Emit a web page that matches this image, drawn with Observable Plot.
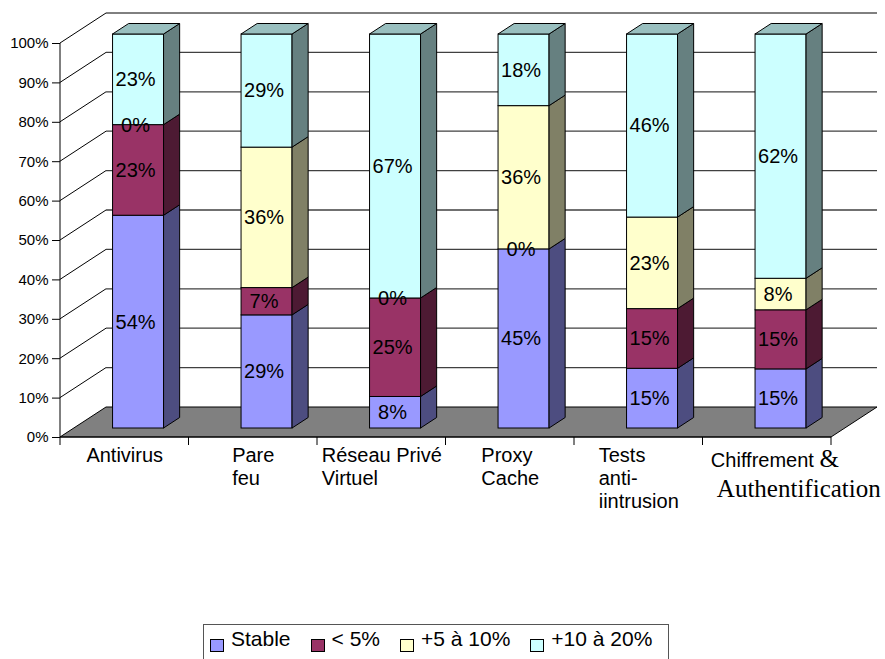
<!DOCTYPE html>
<html>
<head>
<meta charset="utf-8">
<script src="https://cdn.jsdelivr.net/npm/d3@7"></script>
<script src="https://cdn.jsdelivr.net/npm/@observablehq/plot@0.6"></script>
<style>
  body { margin: 0; background: #fff; font-family: "Liberation Sans", Arial, sans-serif; }
  #chart { position: relative; width: 885px; height: 659px; overflow: hidden; background: #fff; }
  #chart svg { display: block; }
  #legend {
    position: absolute; left: 203px; top: 624px; width: 466px; height: 40px;
    box-sizing: border-box; border: 1.5px solid #555; border-bottom: none;
    display: flex; align-items: flex-start; padding: 3px 0 0 6px;
    font-size: 21px; color: #000; line-height: 1;
  }
  .item { display: flex; align-items: flex-start; margin-right: 20px; white-space: nowrap; }
  .swatch { width: 14px; height: 13px; border: 1px solid #000; box-sizing: border-box; margin: 11px 7px 0 0; }
</style>
</head>
<body>
<div id="chart"></div>
<script>
// Survey categories and their axis labels (line breaks as printed)
const categories = ["Antivirus", "Pare feu", "Réseau Privé Virtuel", "Proxy Cache", "Tests anti-iintrusion", "Chiffrement & Authentification"];
const tickLabels = ["Antivirus", "Pare\nfeu", "Réseau Privé\nVirtuel", "Proxy\nCache", "Tests\nanti-\niintrusion", "Chiffrement &\nAuthentification"];

// Series, bottom to top of each stack
const seriesNames = ["Stable", "< 5%", "+5 à 10%", "+10 à 20%"];
const seriesColors = ["#9999FF", "#993366", "#FFFFCC", "#CCFFFF"];

// Shares of answers (%) per category
const stable     = [54, 29,  8, 45, 15, 15];
const under5     = [23,  7, 25,  0, 15, 15];
const from5to10  = [ 0, 36,  0, 36, 23,  8];
const from10to20 = [23, 29, 67, 18, 46, 62];
const seriesValues = [stable, under5, from5to10, from10to20];

const rows = seriesNames.flatMap((s, k) =>
  categories.map((c, i) => ({category: c, series: s, value: seriesValues[k][i]}))
);

// Layout
const width = 885, height = 620;
const margin = {top: 43, right: 54, bottom: 183, left: 60};
const bandStep = (width - margin.left - margin.right) / categories.length;
const barWidth = 51;
const inset = (bandStep - barWidth) / 2;
const depth = {x: 46, y: -30};          // oblique projection of the full depth
const front = 0.3, back = 0.65;         // bar depth range within the floor
const off = {x: depth.x * front, y: depth.y * front};
const thick = {x: depth.x * (back - front), y: depth.y * (back - front)};
const sans = '"Liberation Sans", Arial, sans-serif';
const serif = '"Liberation Serif", "Times New Roman", serif';

const shade = (c, k) => { const r = d3.rgb(c); return d3.rgb(r.r * k, r.g * k, r.b * k).formatHex(); };
const poly = pts => "M" + pts.map(p => p.join(",")).join("L") + "Z";

// Floor, walls, gridlines and axis lines
function walls(index, {x, y}) {
  const x0 = x(categories[0]);
  const x1 = x(categories[categories.length - 1]) + x.bandwidth();
  const y0 = y(0);
  const g = d3.create("svg:g").attr("fill", "none");
  g.append("path")
    .attr("d", poly([[x0, y0], [x1, y0], [x1 + depth.x, y0 + depth.y], [x0 + depth.x, y0 + depth.y]]))
    .attr("fill", "#808080").attr("stroke", "#000");
  for (const t of y.ticks(10)) {
    if (t === 0) continue;
    const yt = y(t);
    g.append("line")
      .attr("x1", x0 + depth.x).attr("x2", x1 + depth.x)
      .attr("y1", yt + depth.y).attr("y2", yt + depth.y)
      .attr("stroke", t >= 1 ? "#000" : "#404040").attr("stroke-width", t >= 1 ? 1 : 1.3);
    g.append("line")
      .attr("x1", x0).attr("x2", x0 + depth.x)
      .attr("y1", yt).attr("y2", yt + depth.y)
      .attr("stroke", "#000");
  }
  g.append("line").attr("x1", x0).attr("x2", x0).attr("y1", y(0)).attr("y2", y(1)).attr("stroke", "#000");
  g.append("line").attr("x1", x0).attr("x2", x1).attr("y1", y0).attr("y2", y0).attr("stroke", "#000");
  const bounds = categories.map(c => x(c)).concat([x1]);
  for (const xb of bounds) {
    g.append("line").attr("x1", xb).attr("x2", xb).attr("y1", y0).attr("y2", y0 + 8).attr("stroke", "#000");
  }
  return g.node();
}

// Right side and top faces of each stacked prism
function prismFaces(index, {x, y}) {
  const g = d3.create("svg:g").attr("stroke", "#000").attr("stroke-width", 1);
  categories.forEach((c, i) => {
    const total = d3.sum(seriesValues, v => v[i]);
    const xl = x(c) + inset + off.x, xr = x(c) + x.bandwidth() - inset + off.x;
    let acc = 0, topColor = seriesColors[0];
    seriesValues.forEach((v, k) => {
      const v0 = acc / total; acc += v[i]; const v1 = acc / total;
      if (v[i] === 0) return;
      topColor = seriesColors[k];
      const yb = y(v0) + off.y, yt = y(v1) + off.y;
      g.append("path")
        .attr("d", poly([[xr, yb], [xr + thick.x, yb + thick.y], [xr + thick.x, yt + thick.y], [xr, yt]]))
        .attr("fill", shade(seriesColors[k], 0.5));
    });
    const ytop = y(1) + off.y;
    g.append("path")
      .attr("d", poly([[xl, ytop], [xr, ytop], [xr + thick.x, ytop + thick.y], [xl + thick.x, ytop + thick.y]]))
      .attr("fill", shade(topColor, 0.75));
  });
  return g.node();
}

// Category label blocks are left-aligned and centred in their band
const ctx = document.createElement("canvas").getContext("2d");
ctx.font = `20px ${sans}`;
const categoryMarks = categories.map((c, i) => {
  const w = d3.max(tickLabels[i].split("\n"), s => ctx.measureText(s).width);
  return Plot.text([c], {
    x: d => d, y: () => 0, text: () => tickLabels[i],
    textAnchor: "start", lineAnchor: "top", lineHeight: 1.15,
    fontSize: 20, dx: -w / 2, dy: 8
  });
});

const chart = Plot.plot({
  width, height,
  marginTop: margin.top, marginRight: margin.right, marginBottom: margin.bottom, marginLeft: margin.left,
  style: {fontFamily: sans, fontSize: "15px", background: "white", color: "#000", overflow: "visible"},
  x: {domain: categories, padding: 0, round: false, axis: null},
  y: {domain: [0, 1], ticks: 10, tickFormat: d => `${Math.round(d * 100)}%`, tickSize: 8, tickPadding: 4, label: null},
  color: {domain: seriesNames, range: seriesColors},
  marks: [
    walls,
    Plot.barY(rows, Plot.stackY({
      offset: "normalize", x: "category", y: "value", fill: "series",
      stroke: "#000", strokeWidth: 1, insetLeft: inset, insetRight: inset, dx: off.x, dy: off.y
    })),
    prismFaces,
    Plot.text(rows, Plot.stackY({
      offset: "normalize", x: "category", y: "value",
      text: d => `${d.value}%`, fontSize: 20, dx: off.x - 3, dy: off.y
    })),
    ...categoryMarks
  ]
});

// The last label mixes a sans first line with a serif ampersand and second line
const spans = Array.from(chart.querySelectorAll("tspan"));
const first = spans.find(t => t.textContent === "Chiffrement &");
const second = spans.find(t => t.textContent === "Authentification");
let firstY = 14.2;
if (first) {
  const fy = first.getAttribute("y");
  if (fy != null) firstY = fy.endsWith("em") ? parseFloat(fy) * 20 : parseFloat(fy);
  first.textContent = "Chiffrement ";
  const amp = document.createElementNS("http://www.w3.org/2000/svg", "tspan");
  amp.textContent = "&";
  amp.setAttribute("font-family", serif);
  amp.setAttribute("font-size", "25");
  first.appendChild(amp);
  first.setAttribute("y", `${firstY + 5}px`);
  first.setAttribute("dx", "12");
}
if (second) {
  second.setAttribute("font-family", serif);
  second.setAttribute("font-size", "25");
  second.removeAttribute("dy");
  second.setAttribute("y", `${firstY + 35}px`);
  second.setAttribute("dx", "18");
}

document.getElementById("chart").appendChild(chart);

// Legend below the plot
const legend = d3.select("#chart").append("div").attr("id", "legend");
seriesNames.forEach((s, k) => {
  const item = legend.append("div").attr("class", "item");
  item.append("div").attr("class", "swatch").style("background", seriesColors[k]);
  item.append("span").text(s);
});
</script>
</body>
</html>
